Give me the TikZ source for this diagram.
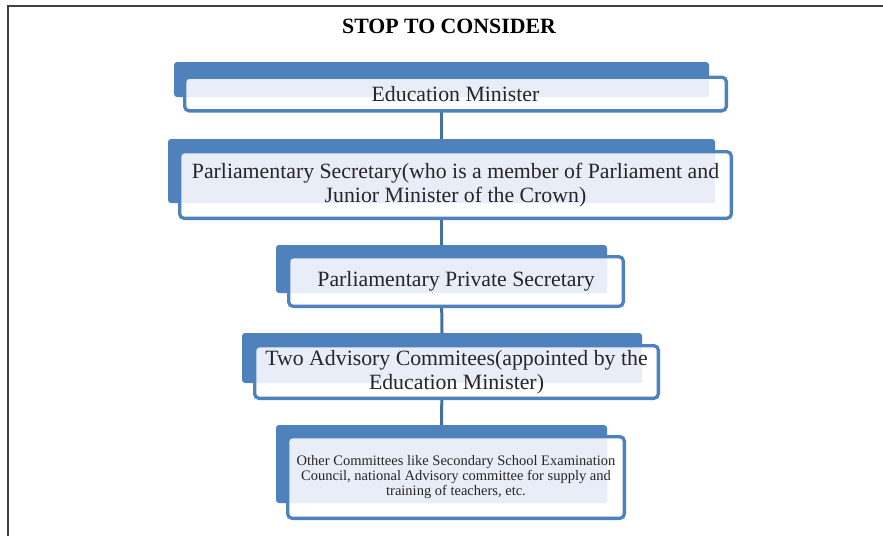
\documentclass[tikz,border=0pt]{standalone}
\usepackage{fontspec}
\setmainfont{Liberation Serif}
\usetikzlibrary{backgrounds}

\definecolor{tabblue}{HTML}{4F81BD}
\definecolor{tabfill}{HTML}{E9EDF7}
\definecolor{linkblue}{HTML}{41719C}
\definecolor{framegray}{HTML}{404040}
\definecolor{txt}{HTML}{262626}

\tikzset{
  backtab/.style={fill=tabblue, rounded corners=3pt, inner sep=0pt},
  cardbox/.style={draw=tabblue, line width=3.3pt, fill=white, rounded corners=4.5pt,
    inner sep=0pt, align=center, text=txt, font=\fontsize{21.8}{24}\selectfont,
    path picture={\fill[tabfill, rounded corners=2.5pt]
      ([xshift=-5pt,yshift=5pt]path picture bounding box.north west) rectangle (#1.south east);}},
  smalltext/.style={font=\fontsize{14.5}{15}\selectfont},
  link/.style={draw=linkblue, line width=3pt},
  framerule/.style={draw=framegray, line width=2pt}
}

\begin{document}
\begin{tikzpicture}[x=1pt,y=-1pt]
\useasboundingbox (0,0) rectangle (883,536);

% open frame: top and left rules
\draw[framerule] (8.3,536) -- (8.3,5.7) -- (883,5.7);

\node[font=\bfseries\fontsize{21.8}{24}\selectfont, text=black] (title) at (449,26) {STOP TO CONSIDER};

% back tabs
\node[backtab, minimum width=535pt, minimum height=35pt] (k1) at (441.5,79.5) {};
\node[backtab, minimum width=547pt, minimum height=64pt] (k2) at (441.5,171) {};
\node[backtab, minimum width=331pt, minimum height=48pt] (k3) at (441.5,269) {};
\node[backtab, minimum width=400pt, minimum height=50pt] (k4) at (442,358) {};
\node[backtab, minimum width=331pt, minimum height=78pt] (k5) at (441.5,464) {};

% connectors between the tabs
\begin{scope}[on background layer]
\draw[link] (k1.south) -- (k2.north);
\draw[link] (k2.south) -- (k3.north);
\draw[link] (k3.south) -- (k4.north);
\draw[link] (k4.south) -- (k5.north);
\end{scope}

% front cards with text
\node[cardbox=k1, minimum width=541.7pt, minimum height=33.7pt] (c1) at (455.5,94)
  {Education Minister};
\node[cardbox=k2, minimum width=551.7pt, minimum height=66.7pt] (c2) at (455.5,185)
  {Parliamentary Secretary(who is a member of Parliament and\\Junior Minister of the Crown)};
\node[cardbox=k3, minimum width=334.7pt, minimum height=49.7pt] (c3) at (456,281.5)
  {Parliamentary Private Secretary};
\node[cardbox=k4, minimum width=403.7pt, minimum height=52.7pt] (c4) at (456.5,372)
  {Two Advisory Commitees(appointed by the\\Education Minister)};
\node[cardbox=k5, smalltext, minimum width=336.7pt, minimum height=81.7pt] (c5) at (456,477.5)
  {Other Committees like Secondary School Examination\\Council, national Advisory committee for supply and\\training of teachers, etc.};
\end{tikzpicture}
\end{document}
